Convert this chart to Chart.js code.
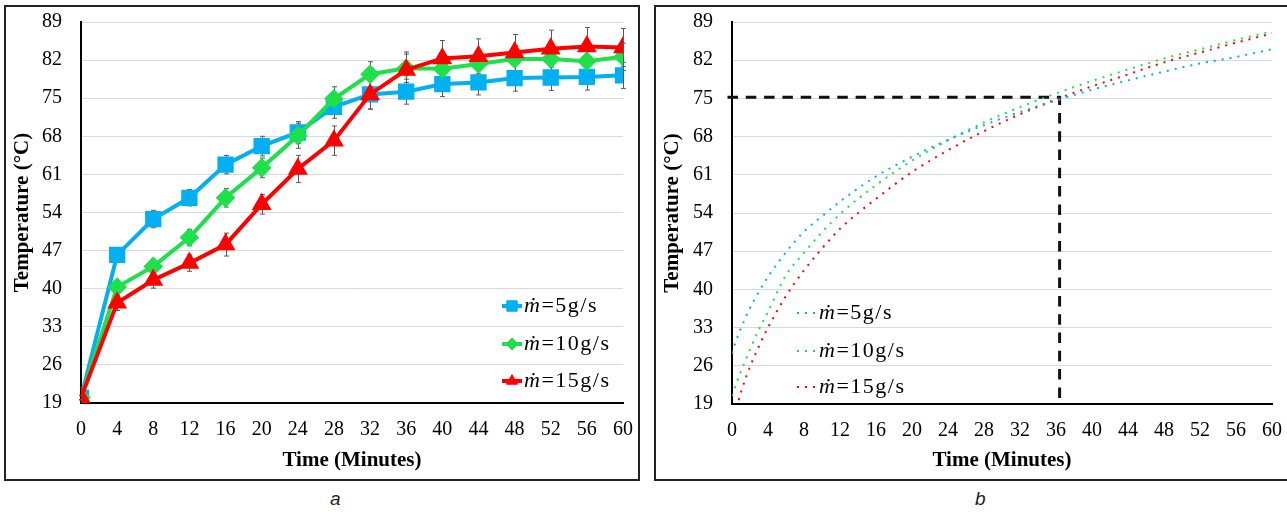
<!DOCTYPE html>
<html>
<head>
<meta charset="utf-8">
<script src="https://cdn.jsdelivr.net/npm/chart.js@4.4.1/dist/chart.umd.min.js"></script>
<style>
  body { margin: 0; background: #fff; width: 1287px; height: 512px; overflow: hidden; position: relative; }
  .panel { position: absolute; border: 2px solid #222; box-sizing: border-box; }
  canvas { position: absolute; }
  .cap { position: absolute; font: italic 19px "Liberation Sans", sans-serif; color: #222; }
</style>
</head>
<body>
<div class="panel" style="left:4px;top:5px;width:636px;height:476px"></div>
<div class="panel" style="left:654px;top:5px;width:700px;height:476px"></div>
<canvas id="chartA" width="640" height="485" style="left:0;top:0"></canvas>
<canvas id="chartB" width="637" height="485" style="left:650px;top:0"></canvas>
<div class="cap" style="left:330px;top:488px">a</div>
<div class="cap" style="left:975px;top:488px">b</div>
<script>
// panel a: measured temperatures
const timeMin = [0, 4, 8, 12, 16, 20, 24, 28, 32, 36, 40, 44, 48, 52, 56, 60];
const temp5  = [20.0, 46.2, 52.8, 56.7, 62.8, 66.2, 68.7, 73.4, 75.7, 76.2, 77.6, 77.9, 78.7, 78.8, 78.9, 79.2];
const temp10 = [20.0, 40.3, 44.1, 49.4, 56.7, 62.2, 68.1, 74.9, 79.4, 80.5, 80.4, 81.3, 82.2, 82.2, 81.8, 82.6];
const temp15 = [20.0, 37.4, 41.6, 44.7, 48.1, 55.5, 62.0, 67.2, 75.7, 80.2, 82.3, 82.7, 83.4, 84.1, 84.5, 84.3];
const err5  = [0.4, 1.2, 1.6, 1.5, 1.7, 1.8, 2.0, 2.1, 2.7, 2.3, 2.3, 2.3, 2.4, 2.4, 2.4, 2.4];
const err10 = [0.4, 1.2, 1.3, 1.5, 1.7, 1.8, 2.3, 2.2, 2.3, 2.6, 2.5, 2.5, 2.5, 2.5, 2.5, 2.5];
const err15 = [0.4, 1.4, 1.5, 1.5, 2.1, 1.8, 2.5, 2.7, 2.7, 3.3, 3.3, 3.2, 3.3, 3.4, 3.5, 3.5];

// panel b: trend curves
const fitTime = [0, 0.5, 1, 2, 3, 4, 6, 8, 10, 12, 16, 20, 24, 28, 32, 36, 40, 44, 48, 52, 56, 60];
const fit5  = [28.3, 30.8, 32.9, 36.6, 39.6, 42.3, 46.8, 50.6, 53.4, 56.1, 60.7, 64.3, 67.4, 70.1, 72.5, 74.6, 76.6, 78.3, 79.9, 81.4, 82.6, 84.0];
const fit10 = [20.5, 22.9, 25.0, 29.0, 32.7, 35.9, 42.6, 46.7, 50.5, 53.8, 59.1, 63.6, 67.3, 70.6, 73.4, 75.9, 78.2, 80.3, 82.3, 84.0, 85.7, 87.3];
const fit15 = [null, 18.3, 21.2, 25.8, 29.6, 33.0, 38.8, 43.5, 47.5, 51.1, 56.6, 61.5, 65.5, 69.0, 72.1, 74.8, 77.2, 79.4, 81.6, 83.4, 85.2, 86.9];
const refX = [-0.5, 36.4, 36.4];
const refY = [75.2, 75.2, 19];

const seriesLabels = ['5g/s', '10g/s', '15g/s'];
const blue = '#00B0F0', green = '#1EE04A', red = '#FF0000';

const tickFont = { family: 'Liberation Serif', size: 20 };
const titleFont = { family: 'Liberation Serif', size: 21, weight: 'bold' };

const pairs = (xs, ys) => xs.map((x, i) => ({ x: x, y: ys[i] }));

const makeScales = (yWidth, xHeight) => ({
  x: {
    type: 'linear', min: 0, max: 60,
    grid: { display: false, drawTicks: false },
    border: { color: '#000', width: 2 },
    ticks: { stepSize: 4, font: tickFont, color: '#000', padding: 15, maxRotation: 0, autoSkip: false },
    title: { display: true, text: 'Time (Minutes)', font: titleFont, color: '#000', padding: 0 },
    afterFit: (s) => { s.height = xHeight; s.paddingLeft = 0; s.paddingRight = 0; }
  },
  y: {
    min: 19, max: 89,
    grid: { color: '#d9d9d9', lineWidth: 1, drawTicks: false },
    border: { color: '#000', width: 2 },
    ticks: { stepSize: 7, font: tickFont, color: '#000', padding: 19 },
    title: { display: true, text: 'Temperature (°C)', font: titleFont, color: '#000', padding: { top: 2, bottom: 0 } },
    afterFit: (s) => { s.width = yWidth; s.paddingTop = 0; s.paddingBottom = 0; }
  }
});

const errorBars = {
  id: 'errorBars',
  beforeDatasetsDraw(chart) {
    const { ctx, scales: { x, y } } = chart;
    ctx.save();
    ctx.strokeStyle = '#595959';
    ctx.lineWidth = 1;
    chart.data.datasets.forEach((ds) => {
      if (!ds.errors) return;
      ds.data.forEach((p, i) => {
        const px = Math.round(x.getPixelForValue(p.x)) + 0.5;
        const top = y.getPixelForValue(p.y + ds.errors[i]);
        const bot = y.getPixelForValue(p.y - ds.errors[i]);
        ctx.beginPath();
        ctx.moveTo(px, top); ctx.lineTo(px, bot);
        ctx.moveTo(px - 2.5, top); ctx.lineTo(px + 2.5, top);
        ctx.moveTo(px - 2.5, bot); ctx.lineTo(px + 2.5, bot);
        ctx.stroke();
      });
    });
    ctx.restore();
  }
};

const legendInside = {
  id: 'legendInside',
  afterDraw(chart, args, opts) {
    const { ctx } = chart;
    opts.rows.forEach((idx, i) => {
      const ds = chart.data.datasets[idx];
      const y = opts.y[i];
      ctx.save();
      ctx.strokeStyle = ds.borderColor;
      ctx.fillStyle = ds.borderColor;
      ctx.lineWidth = ds.borderWidth;
      ctx.setLineDash(ds.borderDash || []);
      ctx.beginPath();
      ctx.moveTo(opts.x0, y); ctx.lineTo(opts.x1, y);
      ctx.stroke();
      ctx.setLineDash([]);
      if (ds.pointRadius > 0) {
        ctx.lineWidth = 1;
        Chart.helpers.drawPoint(ctx, { pointStyle: ds.pointStyle, radius: ds.pointRadius * 0.85, rotation: 0, borderWidth: 1 }, (opts.x0 + opts.x1) / 2, y);
      }
      ctx.fillStyle = '#000';
      ctx.textBaseline = 'middle';
      ctx.letterSpacing = '1.5px';
      ctx.font = 'italic 22px "Liberation Serif"';
      ctx.fillText('ṁ', opts.tx, y);
      const w = ctx.measureText('ṁ').width;
      ctx.font = '22px "Liberation Serif"';
      ctx.fillText('=' + seriesLabels[idx], opts.tx + w, y);
      ctx.restore();
    });
  }
};

new Chart(document.getElementById('chartA'), {
  type: 'line',
  data: {
    datasets: [
      { data: pairs(timeMin, temp5), errors: err5, borderColor: blue, backgroundColor: blue, pointBackgroundColor: blue,
        pointStyle: 'rect', pointRadius: 8.7, borderWidth: 4, order: 2 },
      { data: pairs(timeMin, temp10), errors: err10, borderColor: green, backgroundColor: green, pointBackgroundColor: green,
        pointStyle: 'rectRot', pointRadius: 7, borderWidth: 4, order: 1 },
      { data: pairs(timeMin, temp15), errors: err15, borderColor: red, backgroundColor: red, pointBackgroundColor: red,
        pointStyle: 'triangle', pointRadius: 7.5, borderWidth: 4, order: 0 }
    ]
  },
  options: {
    responsive: false,
    animation: false,
    devicePixelRatio: 1,
    layout: { padding: { left: 8, right: 17, top: 22, bottom: 12 } },
    scales: makeScales(73, 70),
    plugins: {
      legend: { display: false },
      tooltip: { enabled: false },
      legendInside: { rows: [0, 1, 2], y: [306, 344, 381], x0: 502, x1: 522, tx: 524 }
    }
  },
  plugins: [errorBars, legendInside]
});

new Chart(document.getElementById('chartB'), {
  type: 'line',
  data: {
    datasets: [
      { data: pairs(fitTime, fit5), borderColor: blue, borderWidth: 2, borderDash: [2, 6], pointRadius: 0, cubicInterpolationMode: 'monotone' },
      { data: pairs(fitTime, fit10), borderColor: green, borderWidth: 2, borderDash: [2, 6], pointRadius: 0, cubicInterpolationMode: 'monotone' },
      { data: pairs(fitTime, fit15), borderColor: red, borderWidth: 2, borderDash: [2, 6], pointRadius: 0, cubicInterpolationMode: 'monotone' },
      { data: pairs(refX, refY), borderColor: '#111', borderWidth: 3, borderDash: [10.5, 7.8], pointRadius: 0, tension: 0, clip: false }
    ]
  },
  options: {
    responsive: false,
    animation: false,
    devicePixelRatio: 1,
    layout: { padding: { left: 8, right: 15, top: 22, bottom: 12 } },
    scales: makeScales(74, 69),
    plugins: {
      legend: { display: false },
      tooltip: { enabled: false },
      legendInside: { rows: [0, 1, 2], y: [313, 351, 387], x0: 147, x1: 165, tx: 169 }
    }
  },
  plugins: [legendInside]
});
</script>
</body>
</html>
